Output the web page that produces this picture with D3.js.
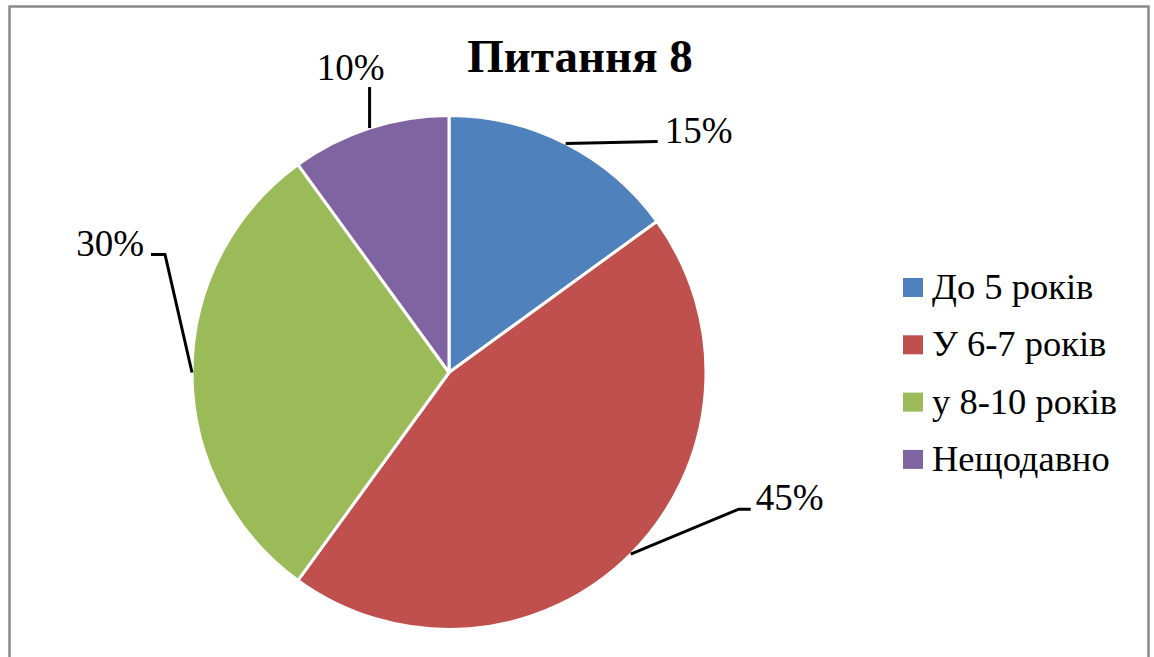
<!DOCTYPE html>
<html>
<head>
<meta charset="utf-8">
<script src="https://cdn.jsdelivr.net/npm/d3@7"></script>
<style>
  body { margin: 0; background: #fff; }
  text { font-family: "Liberation Serif", "Times New Roman", serif; }
</style>
</head>
<body>
<script>
const categories = ["До 5 років", "У 6-7 років", "у 8-10 років", "Нещодавно"];
const values = [15, 45, 30, 10];
const colors = ["#4F81BD", "#C0504D", "#9BBB59", "#8064A2"];
const title = "Питання 8";

// label layout: leader elbow offset from slice edge point and text anchor
const labelLayout = [
  {elbow: [92, -2], end: [92, -2], text: [99, -1], anchor: "start"},
  {elbow: [108, -45], end: [120, -45], text: [125, -44], anchor: "start"},
  {elbow: [-27, -118], end: [-41, -118], text: [-48, -117], anchor: "end"},
  {elbow: [0, -41], end: [0, -41], text: [-19, -48], anchor: "middle"}
];

const width = 1154;
const height = 657;
const cx = 449, cy = 372.5, radius = 257;

const svg = d3.select("body").append("svg")
  .attr("width", width)
  .attr("height", height)
  .style("display", "block");

svg.append("rect")
  .attr("x", 9.5).attr("y", 6.5)
  .attr("width", 1139).attr("height", 700)
  .attr("fill", "none")
  .attr("stroke", "#8a8a8a")
  .attr("stroke-width", 2.5);

svg.append("text")
  .attr("x", 580).attr("y", 72)
  .attr("text-anchor", "middle")
  .attr("font-weight", "bold")
  .attr("font-size", 47)
  .text(title);

const pie = d3.pie().sort(null).value(d => d);
const arcs = pie(values);
const arc = d3.arc().innerRadius(0).outerRadius(radius);

const g = svg.append("g").attr("transform", `translate(${cx},${cy})`);

g.selectAll(".slice").data(arcs).enter().append("path")
  .attr("class", "slice")
  .attr("d", arc)
  .attr("fill", (d, i) => colors[i])
  .attr("stroke", "#fff")
  .attr("stroke-width", 3)
  .attr("stroke-linejoin", "round");

const edgePoint = (d) => {
  const a = (d.startAngle + d.endAngle) / 2;
  return [Math.sin(a) * radius, -Math.cos(a) * radius];
};

g.selectAll(".leader").data(arcs).enter().append("path")
  .attr("class", "leader")
  .attr("fill", "none")
  .attr("stroke", "#000")
  .attr("stroke-width", 3)
  .attr("d", (d, i) => {
    const [x, y] = edgePoint(d);
    const l = labelLayout[i];
    return d3.line()([[x, y], [x + l.elbow[0], y + l.elbow[1]], [x + l.end[0], y + l.end[1]]]);
  });

g.selectAll(".pct").data(arcs).enter().append("text")
  .attr("class", "pct")
  .attr("x", (d, i) => edgePoint(d)[0] + labelLayout[i].text[0])
  .attr("y", (d, i) => edgePoint(d)[1] + labelLayout[i].text[1])
  .attr("text-anchor", (d, i) => labelLayout[i].anchor)
  .attr("font-size", 37)
  .text(d => `${d.data}%`);

const legend = svg.append("g").attr("transform", "translate(903,299)");
const row = legend.selectAll(".item").data(categories).enter().append("g")
  .attr("class", "item")
  .attr("transform", (d, i) => `translate(0,${i * 57.3})`);

row.append("rect")
  .attr("x", 0).attr("y", -21)
  .attr("width", 20).attr("height", 19)
  .attr("fill", (d, i) => colors[i]);

row.append("text")
  .attr("x", 29).attr("y", 0)
  .attr("font-size", 36.5)
  .text(d => d);
</script>
</body>
</html>
